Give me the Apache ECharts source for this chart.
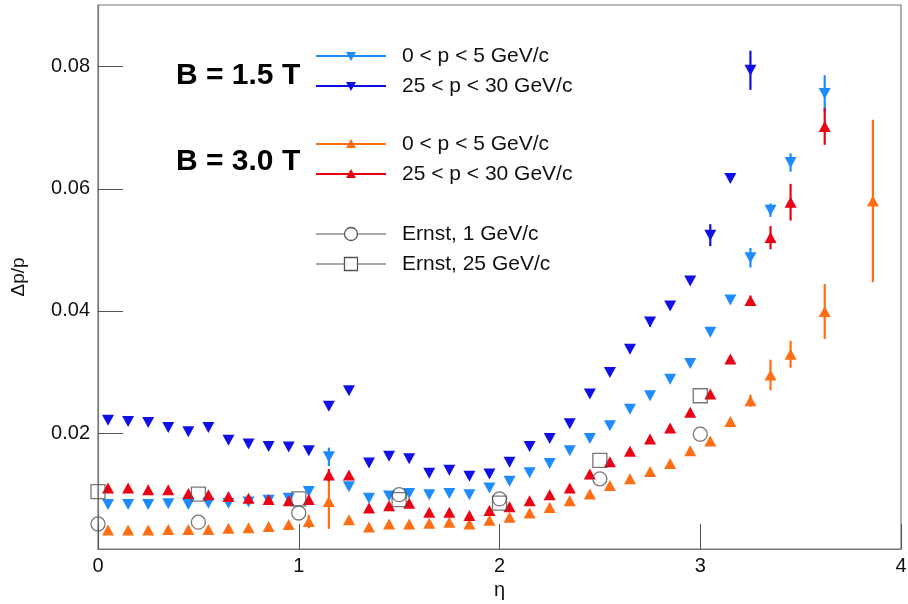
<!doctype html>
<html>
<head>
<meta charset="utf-8">
<title>dp/p vs eta</title>
<script src="https://cdn.jsdelivr.net/npm/echarts@6.0.0/dist/echarts.min.js"></script>
<style type="text/css">
	html,body{margin:0;padding:0;background:#fff;}
	#chart{width:908px;height:604px;}
</style>
</head>
<body>
<div id="chart"></div>
<script type="text/javascript">
// eta bin centres
var eta = [0.05,0.15,0.25,0.35,0.45,0.55,0.65,0.75,0.85,0.95,
           1.05,1.15,1.25,1.35,1.45,1.55,1.65,1.75,1.85,1.95,
           2.05,2.15,2.25,2.35,2.45,2.55,2.65,2.75,2.85,2.95,
           3.05,3.15,3.25,3.35,3.45,3.62,3.86];

// B = 1.5 T, 0 < p < 5
var b15Low = [0.0083,0.0083,0.0083,0.0084,0.0083,0.0085,0.0085,0.0087,0.0090,0.0093,
              0.0104,0.0161,0.0112,0.0093,0.0097,0.0101,0.0099,0.0101,0.0099,0.0110,
              0.0121,0.0135,0.0150,0.0171,0.0191,0.0212,0.0239,0.0261,0.0288,0.0314,
              0.0365,0.0418,0.0487,0.0565,0.0643,0.0756,null];
var b15LowErr = [0,0,0,0,0,0,0,0,0,0,
                 0,0.0015,0,0,0,0,0,0,0,0,
                 0,0,0,0,0,0,0,0,0,0,
                 0,0,0.0016,0.0011,0.0015,0.0030,0];
// B = 1.5 T, 25 < p < 30
var b15High = [0.0221,0.0219,0.0217,0.0209,0.0202,0.0209,0.0188,0.0182,0.0178,0.0177,
               0.0171,0.0244,0.0269,0.0151,0.0162,0.0158,0.0134,0.0139,0.0129,0.0133,
               0.0152,0.0178,0.0191,0.0215,0.0264,0.0299,0.0337,0.0382,0.0408,0.0449,
               0.0524,0.0617,0.0794,null,null,null,null];
var b15HighErr = [0,0,0,0,0,0,0,0,0,0,
                  0,0.0005,0,0,0,0,0,0,0,0,
                  0,0,0,0,0,0,0,0.0008,0,0,
                  0.0018,0.0004,0.0032,0,0,0,0];
// B = 3.0 T, 0 < p < 5
var b30Low = [0.0041,0.0041,0.0041,0.0042,0.0042,0.0042,0.0044,0.0045,0.0047,0.0050,
              0.0055,0.0088,0.0058,0.0046,0.0051,0.0051,0.0052,0.0054,0.0051,0.0057,
              0.0062,0.0069,0.0078,0.0089,0.0100,0.0114,0.0125,0.0137,0.0150,0.0171,
              0.0187,0.0219,0.0253,0.0295,0.0329,0.0399,0.0580];
var b30LowErr = [0,0,0,0,0,0,0,0,0,0,
                 0.0011,0.0045,0,0,0,0,0,0,0,0,
                 0,0,0,0,0,0,0,0,0,0,
                 0,0,0.0010,0.0025,0.0022,0.0045,0.0133];
// B = 3.0 T, 25 < p < 30
var b30High = [0.0110,0.0110,0.0107,0.0107,0.0101,0.0099,0.0096,0.0093,0.0091,0.0089,
               0.0091,0.0131,0.0131,0.0077,0.0081,0.0085,0.0070,0.0070,0.0065,0.0073,
               0.0079,0.0089,0.0099,0.0110,0.0133,0.0153,0.0170,0.0190,0.0208,0.0234,
               0.0264,0.0321,0.0417,0.0520,0.0578,0.0702,null];
var b30HighErr = [0,0,0,0,0,0,0,0,0,0,
                  0,0.0010,0,0,0,0,0,0,0,0,
                  0,0,0,0,0,0,0,0,0,0,
                  0,0,0.0008,0.0019,0.0030,0.0030,0];

// Ernst reference points
var ernstEta = [0, 0.5, 1, 1.5, 2, 2.5, 3];
var ernst1 = [0.0051,0.0054,0.0069,0.0099,0.0092,0.0125,0.0198];
var ernst25 = [0.0104,0.0100,0.0092,0.0091,0.0085,0.0155,0.0261];

var yTicks = [0.02, 0.04, 0.06, 0.08];

var C = {b15lo:'#1e8cff', b15hi:'#1010e6', b30lo:'#ff6e14', b30hi:'#eb0014', ernst:'#555555'};
var FONT = '"Liberation Sans", Arial, sans-serif';

function pts(xs, ys){
	var out = [];
	for (var i = 0; i < xs.length; i++) if (ys[i] != null) out.push([xs[i], ys[i]]);
	return out;
}
function errs(ys, es){
	var out = [];
	for (var i = 0; i < eta.length; i++) if (ys[i] != null && es[i] > 0) out.push([eta[i], ys[i]-es[i], ys[i]+es[i]]);
	return out;
}
function errRender(params, api){
	var a = api.coord([api.value(0), api.value(1)]);
	var b = api.coord([api.value(0), api.value(2)]);
	return {type:'line', shape:{x1:a[0], y1:a[1], x2:b[0], y2:b[1]},
		style:{stroke: api.visual('color'), lineWidth: 2.2}};
}
function errSeries(ys, es, color){
	return {type:'custom', renderItem: errRender, data: errs(ys, es),
		encode:{x:0, y:[1,2]}, itemStyle:{color: color}, z:2, silent:true};
}
function triSeries(name, ys, color, down){
	return {name:name, type:'scatter', data: pts(eta, ys), symbol:'triangle',
		symbolSize:[12,11], symbolRotate: down ? 180 : 0,
		itemStyle:{color: color, opacity:1}, z:3, silent:true};
}

// legend drawn by hand (lines + marker + text), ROOT style
function legendRow(y, color, sym, text){
	var x0 = 316, x1 = 386, xm = 351, els = [];
	els.push({type:'line', shape:{x1:x0, y1:y, x2:x1, y2:y}, style:{stroke:color, lineWidth: sym=='circle'||sym=='rect' ? 1.2 : 2}});
	if (sym == 'down') els.push({type:'polygon', shape:{points:[[xm-5,y-4],[xm+5,y-4],[xm,y+5]]}, style:{fill:color}});
	if (sym == 'up') els.push({type:'polygon', shape:{points:[[xm-5,y+4],[xm+5,y+4],[xm,y-5]]}, style:{fill:color}});
	if (sym == 'circle') els.push({type:'circle', shape:{cx:xm, cy:y, r:6.5}, style:{fill:'#fff', stroke:color, lineWidth:1.3}});
	if (sym == 'rect') els.push({type:'rect', shape:{x:xm-6.5, y:y-6.5, width:13, height:13}, style:{fill:'#fff', stroke:color, lineWidth:1.3}});
	els.push({type:'text', x:402, y:y, style:{text:text, font:'21px '+FONT, fill:'#111', verticalAlign:'middle'}});
	return els;
}
var graphics = [].concat(
	legendRow(56, C.b15lo, 'down', '0 < p < 5 GeV/c'),
	legendRow(86, C.b15hi, 'down', '25 < p < 30 GeV/c'),
	legendRow(144, C.b30lo, 'up', '0 < p < 5 GeV/c'),
	legendRow(174, C.b30hi, 'up', '25 < p < 30 GeV/c'),
	legendRow(234, C.ernst, 'circle', 'Ernst, 1 GeV/c'),
	legendRow(264, C.ernst, 'rect', 'Ernst, 25 GeV/c'),
	[
		{type:'text', x:176, y:76, style:{text:'B = 1.5 T', font:'bold 30px '+FONT, fill:'#000', verticalAlign:'middle'}},
		{type:'text', x:176, y:162, style:{text:'B = 3.0 T', font:'bold 30px '+FONT, fill:'#000', verticalAlign:'middle'}}
	]
);

var chart = echarts.init(document.getElementById('chart'));
var option = {
	animation:false,
	backgroundColor:'#fff',
	grid:{left:98, right:7, top:5, bottom:55, outerBoundsMode:'none', containLabel:false,
		show:true, borderColor:'#777', borderWidth:1.2},
	xAxis:{
		type:'value', min:0, max:4, interval:1,
		name:'η', nameLocation:'middle', nameGap:21,
		nameTextStyle:{fontFamily:FONT, fontSize:20, color:'#111'},
		axisLine:{onZero:false, lineStyle:{color:'#777', width:1.2}},
		axisTick:{inside:true, length:25, lineStyle:{color:'#555'}},
		axisLabel:{fontFamily:FONT, fontSize:20, color:'#111', margin:7},
		splitLine:{show:false}
	},
	yAxis:{
		type:'value', min:0.001, max:0.0901,
		name:'Δp/p', nameLocation:'middle', nameGap:70,
		nameTextStyle:{fontFamily:FONT, fontSize:19, color:'#111'},
		axisLine:{onZero:false, lineStyle:{color:'#777', width:1.2}},
		axisTick:{inside:true, length:25, customValues:yTicks, lineStyle:{color:'#555'}},
		axisLabel:{fontFamily:FONT, fontSize:20, color:'#111', margin:8, customValues:yTicks,
			formatter:function(v){ return v.toFixed(2); }},
		splitLine:{show:false}
	},
	graphic: graphics,
	series:[
		errSeries(b15Low, b15LowErr, C.b15lo),
		errSeries(b15High, b15HighErr, C.b15hi),
		errSeries(b30Low, b30LowErr, C.b30lo),
		errSeries(b30High, b30HighErr, C.b30hi),
		triSeries('B=1.5T 0<p<5', b15Low, C.b15lo, true),
		triSeries('B=1.5T 25<p<30', b15High, C.b15hi, true),
		triSeries('B=3.0T 0<p<5', b30Low, C.b30lo, false),
		triSeries('B=3.0T 25<p<30', b30High, C.b30hi, false),
		{name:'Ernst, 1 GeV/c', type:'scatter', data: pts(ernstEta, ernst1), symbol:'circle', symbolSize:14,
			itemStyle:{color:'rgba(0,0,0,0)', borderColor:C.ernst, borderWidth:1.3}, z:4, silent:true},
		{name:'Ernst, 25 GeV/c', type:'scatter', data: pts(ernstEta, ernst25), symbol:'rect', symbolSize:14,
			itemStyle:{color:'rgba(0,0,0,0)', borderColor:C.ernst, borderWidth:1.3}, z:4, silent:true}
	]
};
chart.setOption(option);
</script>
</body>
</html>
